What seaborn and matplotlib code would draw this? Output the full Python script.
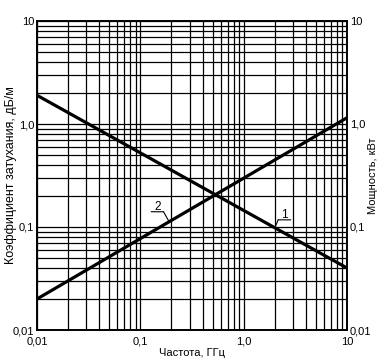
import numpy as np
import pandas as pd
import matplotlib
matplotlib.use("Agg")
import matplotlib.pyplot as plt
import seaborn as sns
from matplotlib.ticker import FixedLocator, FixedFormatter, LogLocator, NullFormatter

# Data
freq = [0.01, 10.0]               # GHz
attenuation = [1.9, 0.04]         # curve 1, dB/m
power = [0.02, 1.15]              # curve 2, kW
major_ticks = [0.01, 0.1, 1.0, 10.0]
tick_labels = ["0,01", "0,1", "1,0", "10"]
curve_labels = ["1", "2"]

sns.set_theme(style="white")
plt.rcParams['font.family'] = ['Liberation Sans', 'DejaVu Sans']

fig = plt.figure(figsize=(3.86, 3.64), dpi=100)
ax = fig.add_axes([37/386, 1-330/364, 310/386, 309/364])

df1 = pd.DataFrame({"f": freq, "v": attenuation})
df2 = pd.DataFrame({"f": freq, "v": power})

ax.set_xscale("log")
ax.set_yscale("log")
sns.lineplot(data=df1, x="f", y="v", ax=ax, color="black", linewidth=2.3, zorder=5)

ax2 = ax.twinx()
ax2.set_yscale("log")
sns.lineplot(data=df2, x="f", y="v", ax=ax2, color="black", linewidth=2.3, zorder=5)

for a in (ax, ax2):
    a.set_xlim(0.01, 10)
    a.set_ylim(0.01, 10)
    a.yaxis.set_major_locator(FixedLocator(major_ticks))
    a.yaxis.set_major_formatter(FixedFormatter(tick_labels))
    a.yaxis.set_minor_locator(LogLocator(base=10, subs=np.arange(2, 10)))
    a.yaxis.set_minor_formatter(NullFormatter())
    a.tick_params(axis="y", which="both", length=0, labelsize=8, colors="black", pad=2)
    for s in a.spines.values():
        s.set_color("black")
        s.set_linewidth(1.2)

ax.xaxis.set_major_locator(FixedLocator(major_ticks))
ax.xaxis.set_major_formatter(FixedFormatter(tick_labels))
ax.xaxis.set_minor_locator(LogLocator(base=10, subs=np.arange(2, 10)))
ax.xaxis.set_minor_formatter(NullFormatter())
ax.tick_params(axis="x", which="both", length=0, labelsize=8, colors="black", pad=5)

ax.grid(True, which="both", color="black", linewidth=0.9)
ax.set_axisbelow(True)

ax.set_xlabel("Частота, ГГц", fontsize=8, color="black")
ax.set_ylabel("Коэффициент затухания, дБ/м", fontsize=9, color="black")
ax2.set_ylabel("Мощность, кВт", fontsize=8, color="black")
ax.xaxis.set_label_coords(0.5, -0.058)
ax.yaxis.set_label_coords(-0.066, 0.5)
ax2.yaxis.set_label_coords(1.068, 0.5)

def on_line(xs, ys, x):
    lx = np.log10(xs); ly = np.log10(ys)
    return 10 ** np.interp(np.log10(x), lx, ly)

def curve_label(a, text, x, xs, ys, offset, leader_end):
    pt = (x, on_line(xs, ys, x))
    txt = a.annotate(text, xy=pt, xytext=offset, textcoords="offset points",
                     fontsize=8.5, ha="center", va="bottom", color="black")
    a.annotate("", xy=(-0.45, 0.08), xycoords=txt, xytext=(1.45, 0.08), textcoords=txt,
               arrowprops=dict(arrowstyle="-", color="black", linewidth=0.8,
                               shrinkA=0, shrinkB=0))
    a.annotate("", xy=pt, xycoords="data", xytext=(leader_end, 0.08), textcoords=txt,
               arrowprops=dict(arrowstyle="-", color="black", linewidth=0.8,
                               shrinkA=0, shrinkB=0))

curve_label(ax, curve_labels[0], 2.0, freq, attenuation, (7, 5), -0.45)
curve_label(ax2, curve_labels[1], 0.19, freq, power, (-8.5, 6.5), 1.45)

fig.savefig("out.png", dpi=100)
